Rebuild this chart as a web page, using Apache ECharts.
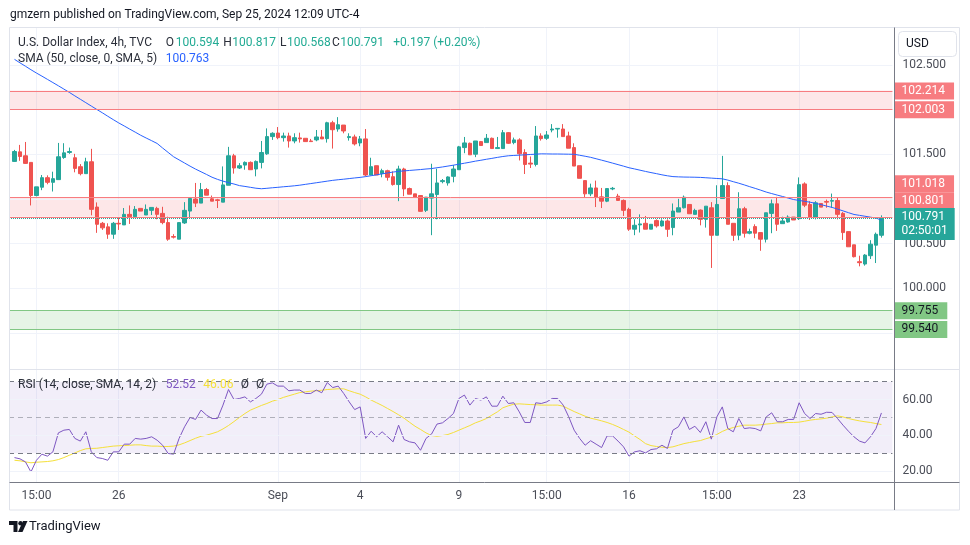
<!DOCTYPE html>
<html>
<head>
<meta charset="utf-8">
<title>U.S. Dollar Index 4h</title>
<script src="https://cdn.jsdelivr.net/npm/echarts@6/dist/echarts.min.js"></script>
<style>
  html, body { margin: 0; padding: 0; background: #fff; }
  #main { width: 970px; height: 545px; }
</style>
</head>
<body>
<div id="main"></div>
<script>
// 4h 蜡烛数据
var opens = [
  101.421,101.528,101.484,101.410,101.039,101.132,101.239,101.187,101.217,101.465,
  101.521,101.462,101.362,101.284,101.417,100.910,100.728,100.688,100.606,100.728,
  100.710,100.828,100.802,100.895,100.821,100.873,100.895,100.839,100.736,100.580,
  100.550,100.732,100.865,101.000,100.954,101.106,101.002,100.991,100.965,101.154,
  101.484,101.347,101.380,101.410,101.336,101.410,101.506,101.699,101.739,101.687,
  101.706,101.650,101.684,101.680,101.650,101.662,101.695,101.676,101.854,101.784,
  101.828,101.688,101.695,101.628,101.673,101.269,101.373,101.284,101.317,101.250,
  101.162,101.336,101.117,101.058,101.039,100.873,101.010,101.050,101.195,101.180,
  101.254,101.328,101.576,101.624,101.502,101.643,101.632,101.680,101.565,101.565,
  101.743,101.632,101.662,101.521,101.402,101.387,101.706,101.680,101.773,101.784,
  101.784,101.706,101.576,101.373,101.206,101.058,101.124,101.024,100.976,101.113,
  101.032,100.984,100.884,100.662,100.710,100.728,100.662,100.758,100.699,100.754,
  100.680,100.854,100.902,100.939,100.828,100.876,100.772,100.902,100.594,101.005,
  101.150,100.728,100.594,100.891,100.617,100.691,100.624,100.550,100.839,100.946,
  100.724,100.743,100.798,100.780,101.169,100.939,100.798,100.950,100.972,100.976,
  100.983,100.839,100.635,100.487,100.298,100.272,100.365,100.483,100.594
];
var closes = [
  101.532,101.476,101.399,101.039,101.136,101.239,101.187,101.228,101.473,101.517,
  101.532,101.343,101.284,101.417,100.884,100.717,100.677,100.606,100.728,100.721,
  100.828,100.802,100.884,100.865,100.884,100.906,100.828,100.736,100.550,100.573,
  100.736,100.873,101.006,100.954,101.106,101.043,100.976,100.984,101.158,101.484,
  101.347,101.373,101.410,101.328,101.421,101.521,101.699,101.736,101.687,101.706,
  101.650,101.687,101.673,101.643,101.643,101.695,101.673,101.854,101.776,101.832,
  101.762,101.699,101.617,101.673,101.269,101.362,101.269,101.317,101.243,101.162,
  101.336,101.113,101.054,101.021,100.862,101.021,101.058,101.180,101.206,101.247,
  101.336,101.584,101.628,101.495,101.650,101.599,101.680,101.565,101.576,101.743,
  101.624,101.662,101.506,101.387,101.391,101.706,101.676,101.717,101.784,101.791,
  101.699,101.569,101.369,101.232,101.058,101.124,101.021,100.976,101.117,101.120,
  100.984,100.873,100.662,100.706,100.721,100.662,100.717,100.699,100.754,100.661,
  100.865,100.902,101.020,100.835,100.872,100.772,100.920,100.594,100.939,101.150,
  100.717,100.594,100.891,100.617,100.635,100.617,100.550,100.846,100.946,100.717,
  100.754,100.798,100.765,101.161,100.931,100.798,100.957,100.909,100.965,100.983,
  100.828,100.624,100.465,100.354,100.287,100.372,100.494,100.605,100.791
];
var highs = [
  101.550,101.606,101.639,101.410,101.136,101.269,101.265,101.306,101.628,101.625,
  101.576,101.506,101.391,101.462,101.562,100.962,100.743,100.728,100.743,100.788,
  100.899,100.928,100.921,100.895,100.939,100.906,100.913,100.913,100.802,100.606,
  100.736,100.965,101.013,101.180,101.180,101.124,101.039,101.002,101.365,101.584,
  101.506,101.402,101.421,101.421,101.432,101.650,101.791,101.747,101.806,101.743,
  101.743,101.736,101.743,101.680,101.673,101.773,101.773,101.865,101.876,101.917,
  101.828,101.736,101.721,101.706,101.784,101.462,101.373,101.339,101.328,101.310,
  101.373,101.350,101.128,101.058,101.039,101.021,101.395,101.339,101.224,101.254,
  101.380,101.595,101.695,101.632,101.650,101.650,101.728,101.688,101.695,101.773,
  101.750,101.688,101.680,101.558,101.476,101.817,101.736,101.761,101.839,101.791,
  101.839,101.754,101.624,101.373,101.206,101.172,101.206,101.124,101.117,101.135,
  101.058,100.995,100.902,100.773,100.828,100.810,100.717,100.773,100.773,100.772,
  100.950,101.002,101.039,100.939,100.891,100.883,100.920,100.965,101.154,101.483,
  101.187,100.728,101.076,100.913,100.668,100.717,100.624,100.846,100.994,101.024,
  100.802,100.817,100.798,101.242,101.187,100.976,100.976,100.950,100.994,101.061,
  101.020,100.854,100.635,100.487,100.365,100.383,100.539,100.624,100.817
];
var lows = [
  101.417,101.428,101.395,100.928,101.030,101.099,101.165,101.084,101.217,101.450,
  101.506,101.299,101.265,101.284,100.817,100.621,100.654,100.554,100.554,100.654,
  100.710,100.721,100.802,100.865,100.821,100.821,100.773,100.717,100.532,100.558,
  100.550,100.721,100.784,100.910,100.954,101.043,100.976,100.899,100.965,101.154,
  101.284,101.336,101.328,101.328,101.254,101.343,101.495,101.662,101.669,101.643,
  101.576,101.624,101.632,101.643,101.643,101.647,101.673,101.632,101.565,101.754,
  101.736,101.654,101.599,101.591,101.254,101.269,101.269,101.243,101.206,101.150,
  100.976,101.032,101.054,101.021,100.862,100.854,100.595,100.773,101.176,101.150,
  101.187,101.328,101.513,101.495,101.469,101.599,101.632,101.565,101.565,101.565,
  101.617,101.613,101.432,101.280,101.347,101.365,101.654,101.662,101.747,101.687,
  101.699,101.569,101.369,101.232,101.013,101.032,100.910,100.899,100.965,101.099,
  100.984,100.810,100.643,100.595,100.625,100.662,100.662,100.680,100.691,100.576,
  100.594,100.854,100.894,100.835,100.828,100.705,100.680,100.228,100.594,101.005,
  100.717,100.531,100.539,100.568,100.605,100.561,100.420,100.513,100.617,100.643,
  100.724,100.735,100.765,100.765,100.909,100.765,100.772,100.909,100.902,100.902,
  100.772,100.542,100.465,100.346,100.246,100.254,100.328,100.283,100.568
];
// SMA 50
var sma50 = [
  102.564,102.525,102.487,102.448,102.411,102.376,102.340,102.304,102.268,102.231,
  102.194,102.155,102.117,102.079,102.041,102.003,101.966,101.927,101.889,101.852,
  101.818,101.783,101.749,101.714,101.683,101.653,101.622,101.571,101.522,101.473,
  101.438,101.403,101.368,101.335,101.305,101.275,101.244,101.220,101.200,101.183,
  101.168,101.150,101.141,101.131,101.121,101.115,101.120,101.126,101.131,101.137,
  101.142,101.148,101.155,101.164,101.173,101.182,101.191,101.200,101.209,101.216,
  101.222,101.229,101.236,101.242,101.251,101.261,101.271,101.282,101.292,101.302,
  101.310,101.315,101.320,101.325,101.330,101.336,101.341,101.350,101.359,101.369,
  101.379,101.390,101.401,101.412,101.424,101.434,101.445,101.455,101.466,101.476,
  101.484,101.488,101.491,101.495,101.499,101.502,101.506,101.505,101.504,101.504,
  101.503,101.502,101.501,101.490,101.479,101.467,101.451,101.435,101.419,101.402,
  101.385,101.368,101.350,101.337,101.323,101.309,101.296,101.284,101.271,101.260,
  101.251,101.248,101.246,101.245,101.244,101.242,101.238,101.234,101.230,101.226,
  101.212,101.194,101.177,101.158,101.138,101.119,101.099,101.078,101.061,101.044,
  101.028,101.011,100.994,100.984,100.974,100.964,100.952,100.937,100.921,100.906,
  100.887,100.867,100.847,100.827,100.817,100.807,100.797,100.787,100.763
];
// RSI 14 及其 SMA 14
var rsi = [
  27.6,26.9,25.2,19.6,26.1,29.5,28.4,30.8,41.4,42.9,
  43.3,38.3,36.8,42.0,30.8,27.6,27.1,26.1,30.8,30.8,
  35.1,35.1,38.3,37.9,38.3,39.2,37.3,34.5,29.9,29.5,
  38.3,44.8,50.0,48.9,54.1,51.3,49.4,49.4,56.9,65.6,
  60.0,60.6,61.5,58.7,60.6,63.0,68.6,69.3,67.5,67.5,
  64.9,65.3,65.3,63.4,63.4,65.3,63.8,69.5,66.7,67.5,
  63.4,58.7,54.4,55.9,38.3,42.3,39.2,42.0,39.2,36.4,
  45.7,37.7,36.4,35.8,31.7,38.3,40.7,46.3,47.0,49.4,
  52.2,60.6,62.5,56.9,60.6,59.7,61.5,56.3,56.3,61.9,
  57.8,58.2,53.1,47.2,47.2,58.2,57.8,58.7,60.6,60.6,
  56.9,50.4,42.9,38.3,34.5,37.0,35.1,33.2,39.7,39.7,
  36.8,33.6,28.4,30.8,31.4,30.2,32.1,32.5,34.5,32.7,
  42.9,44.8,50.3,43.3,45.1,41.6,47.6,37.9,50.3,55.9,
  43.8,42.0,49.4,43.8,44.2,43.8,42.5,50.3,52.6,47.6,
  47.6,48.9,48.9,58.2,52.2,49.4,52.2,51.8,52.9,52.8,
  49.4,45.7,42.3,39.2,36.8,35.8,39.2,43.8,52.52
];
var rsiMa = [
  26.1,25.8,25.2,24.7,25.0,25.2,25.4,25.8,26.5,27.6,
  28.9,30.2,31.5,32.5,32.7,32.8,33.2,33.6,34.0,34.2,
  34.3,34.5,34.7,34.7,34.3,34.0,34.0,33.8,33.8,34.0,
  34.7,35.8,37.1,38.4,39.5,40.1,41.0,42.0,43.6,45.5,
  47.7,50.0,52.2,54.1,55.4,56.7,57.8,59.1,60.0,61.2,
  62.1,63.0,63.9,64.3,64.7,64.9,65.2,65.6,65.8,66.0,
  66.0,64.9,63.9,63.0,61.5,59.7,58.2,56.7,55.0,53.3,
  51.5,49.6,47.3,45.1,43.3,41.4,39.9,39.5,39.9,40.5,
  41.6,42.9,44.2,45.5,47.0,48.1,49.4,51.3,53.1,55.4,
  56.5,57.4,57.6,57.4,57.2,57.1,56.9,56.9,56.9,56.9,
  56.3,54.8,53.3,52.0,50.7,49.6,48.9,48.1,47.2,46.1,
  44.8,43.3,41.8,39.7,37.7,35.4,34.3,33.8,33.4,33.2,
  33.6,34.5,35.4,36.0,36.6,37.1,38.1,39.0,40.5,42.2,
  43.5,44.4,45.1,45.7,45.7,45.7,45.9,46.3,46.6,47.0,
  47.0,47.2,47.2,47.4,47.9,48.5,48.9,49.2,49.6,50.3,
  50.9,50.3,49.4,48.7,48.1,47.6,47.2,46.6,46.06
];

// 时间轴标签 (蜡烛序号)
var timeLabels = ['15:00', '26', 'Sep', '4', '9', '15:00', '16', '15:00', '23'];
var timeLabelAt = [4, 19, 48, 63, 81, 97, 112, 128, 143];

// 价格刻度
var priceGrid = [99.5, 100, 100.5, 101, 101.5, 102, 102.5];
var priceGridLabels = [100, 100.5, 101.5, 102.5];
var rsiGrid = [20, 40, 60];
var rsiBands = [70, 50, 30];

// 水平区域 / 价位
var redZones = [[102.214, 102.003], [101.018, 100.801]];
var greenZone = [99.755, 99.540];
var levelValues = [102.214, 102.003, 101.018, 100.801, 99.755, 99.540];
var levelLabelAt = [102.214, 102.003, 101.175, 100.985, 99.755, 99.540];
var lastPrice = 100.791;
var lastPriceLabelAt = 100.715;
var countdown = '02:50:01';

var FONT = 'Roboto, "Noto Sans", sans-serif';
var UP = '#26a69a', DOWN = '#ef5350';
var HIDDEN = { color: 'rgba(0,0,0,0)', width: 0 };

var chart = echarts.init(document.getElementById('main'));

var PAD_L = 1, PAD_R = 2;
var n = closes.length;
var cats = [];
for (var i = 0; i < n + PAD_L + PAD_R; i++) cats.push(String(i));

function pad(arr) {
  var out = ['-'];
  for (var i = 0; i < arr.length; i++) out.push(arr[i]);
  out.push('-', '-');
  return out;
}

var candleData = [['-', '-', '-', '-']];
for (var i = 0; i < n; i++) candleData.push([opens[i], closes[i], lows[i], highs[i]]);
candleData.push(['-', '-', '-', '-'], ['-', '-', '-', '-']);

var labelAtCat = {};
timeLabelAt.forEach(function (k, j) { labelAtCat[k + PAD_L] = timeLabels[j]; });
function isLabelCat(idx) { return labelAtCat.hasOwnProperty(idx); }

// 网格
var STEP = 5.487;
var gridLeft = 9;
var gridWidth = STEP * (cats.length - 1);

// 价位线
var levelLines = levelValues.map(function (v) {
  return {
    yAxis: v,
    lineStyle: { color: v < 100 ? '#81c784' : '#f77c80', width: 1, type: 'solid' }
  };
});
levelLines.push({ yAxis: lastPrice, lineStyle: { color: UP, width: 1, type: 'dotted' } });

// 价签 (透明线 + 标签)
var tagLines = levelValues.map(function (v, j) {
  var green = v < 100;
  return {
    yAxis: levelLabelAt[j],
    lineStyle: HIDDEN,
    label: {
      show: true, position: 'end', distance: 2, opacity: 1,
      formatter: v.toFixed(3),
      color: green ? '#131722' : '#fff',
      backgroundColor: green ? '#81c784' : '#f77c80',
      padding: [3, 9, 2, 7], fontSize: 12, lineHeight: 12, fontFamily: FONT
    }
  };
});
tagLines.push({
  yAxis: lastPriceLabelAt,
  lineStyle: HIDDEN,
  label: {
    show: true, position: 'end', distance: 2, opacity: 1,
    formatter: lastPrice.toFixed(3) + '\n' + countdown,
    color: '#fff', backgroundColor: UP,
    padding: [2, 7, 2, 7], fontSize: 12, lineHeight: 14, fontFamily: FONT
  }
});

function legendText(x, y, text, color) {
  return {
    type: 'text', x: x, y: y, z: 100, silent: true,
    style: { text: text, fill: color, font: '12px ' + FONT, verticalAlign: 'middle' }
  };
}

var option = {
  animation: false,
  backgroundColor: '#fff',
  textStyle: { fontFamily: FONT },
  grid: [
    { left: gridLeft, width: gridWidth, top: 27.3, height: 342, containLabel: false, outerBoundsMode: 'none' },
    { left: gridLeft, width: gridWidth, top: 370, height: 112.3, containLabel: false, outerBoundsMode: 'none' }
  ],
  xAxis: [
    {
      type: 'category', gridIndex: 0, data: cats, boundaryGap: false,
      axisLine: { show: false }, axisTick: { show: false }, axisLabel: { show: false },
      splitLine: { show: true, interval: function (idx) { return isLabelCat(idx); }, lineStyle: { color: '#f0f3fa' } }
    },
    {
      type: 'category', gridIndex: 1, data: cats, boundaryGap: false,
      axisLine: { show: false }, axisTick: { show: false },
      axisLabel: {
        show: true, margin: 8, color: '#4a4d57', fontSize: 12,
        interval: function (idx) { return isLabelCat(idx); },
        formatter: function (v, idx) { return labelAtCat[idx] || ''; }
      },
      splitLine: { show: true, interval: function (idx) { return isLabelCat(idx); }, lineStyle: { color: '#f0f3fa' } }
    }
  ],
  yAxis: [
    {
      type: 'value', gridIndex: 0, position: 'right', min: 99.093, max: 102.923,
      axisLine: { show: false }, axisTick: { show: false }, axisLabel: { show: false }, splitLine: { show: false }
    },
    {
      type: 'value', gridIndex: 1, position: 'right', min: 13.8, max: 76.5,
      axisLine: { show: false }, axisTick: { show: false }, axisLabel: { show: false }, splitLine: { show: false }
    }
  ],
  series: [
    // 价格网格线 + 刻度文字
    {
      type: 'line', xAxisIndex: 0, yAxisIndex: 0, data: [], clip: false, z: 1,
      markLine: {
        silent: true, symbol: ['none', 'none'], animation: false, z: 1,
        lineStyle: { color: '#f0f3fa', width: 1, type: 'solid' },
        label: {
          show: true, position: 'end', distance: 10, color: '#4a4d57', fontSize: 12,
          formatter: function (p) { return p.value.toFixed(3); }
        },
        data: priceGrid.map(function (v) {
          return { yAxis: v, label: { show: priceGridLabels.indexOf(v) >= 0 } };
        })
      }
    },
    {
      name: 'U.S. Dollar Index', type: 'candlestick', xAxisIndex: 0, yAxisIndex: 0,
      data: candleData, barWidth: 4,
      itemStyle: { color: UP, color0: DOWN, borderColor: UP, borderColor0: DOWN, borderWidth: 1 },
      markArea: {
        silent: true,
        itemStyle: { color: 'rgba(242,54,69,0.12)' },
        data: redZones.map(function (z) { return [{ yAxis: z[0] }, { yAxis: z[1] }]; }).concat([
          [{ yAxis: greenZone[0], itemStyle: { color: 'rgba(76,175,80,0.14)' } }, { yAxis: greenZone[1] }]
        ])
      }
    },
    {
      name: 'SMA 50', type: 'line', xAxisIndex: 0, yAxisIndex: 0, data: pad(sma50),
      symbol: 'none', z: 3, lineStyle: { color: '#2962ff', width: 1 }
    },
    // 价位线
    {
      type: 'line', xAxisIndex: 0, yAxisIndex: 0, data: [], clip: false, z: 6,
      markLine: { silent: true, symbol: ['none', 'none'], animation: false, label: { show: false }, data: levelLines }
    },
    // 价签
    {
      type: 'line', xAxisIndex: 0, yAxisIndex: 0, data: [], clip: false, z: 7,
      markLine: {
        silent: true, symbol: ['none', 'none'], animation: false,
        label: { show: true, position: 'end' },
        data: tagLines
      }
    },
    // RSI 网格
    {
      type: 'line', xAxisIndex: 1, yAxisIndex: 1, data: [], clip: false, z: 1,
      markArea: {
        silent: true, itemStyle: { color: 'rgba(126,87,194,0.1)' },
        data: [[{ yAxis: rsiBands[2] }, { yAxis: rsiBands[0] }]]
      },
      markLine: {
        silent: true, symbol: ['none', 'none'], animation: false,
        lineStyle: { color: '#f0f3fa', width: 1, type: 'solid' },
        label: {
          show: true, position: 'end', distance: 10, color: '#4a4d57', fontSize: 12,
          formatter: function (p) { return p.value.toFixed(2); }
        },
        data: rsiGrid.map(function (v) { return { yAxis: v }; }).concat(rsiBands.map(function (v) {
          return {
            yAxis: v, label: { show: false },
            lineStyle: { color: v === 50 ? 'rgba(120,123,134,0.55)' : '#787b86', type: [5, 4], width: 1 }
          };
        }))
      }
    },
    {
      name: 'RSI', type: 'line', xAxisIndex: 1, yAxisIndex: 1, data: pad(rsi),
      symbol: 'none', z: 4, lineStyle: { color: '#7e57c2', width: 1 }
    },
    {
      name: 'RSI MA', type: 'line', xAxisIndex: 1, yAxisIndex: 1, data: pad(rsiMa),
      symbol: 'none', z: 3, lineStyle: { color: '#f5e03a', width: 1 }
    }
  ],
  graphic: {
    elements: [
      { type: 'rect', z: 100, silent: true, shape: { x: 9.5, y: 27.5, width: 950, height: 482.5 },
        style: { fill: 'none', stroke: '#e0e3eb', lineWidth: 1 } },
      { type: 'line', z: 100, silent: true, shape: { x1: 9.5, y1: 369.5, x2: 959.5, y2: 369.5 },
        style: { stroke: '#e0e3eb', lineWidth: 1 } },
      { type: 'line', z: 101, silent: true, shape: { x1: 894.5, y1: 27.5, x2: 894.5, y2: 510 },
        style: { stroke: '#787b86', lineWidth: 1 } },
      { type: 'line', z: 101, silent: true, shape: { x1: 9.5, y1: 482.5, x2: 959.5, y2: 482.5 },
        style: { stroke: '#787b86', lineWidth: 1 } },
      // USD 按钮
      { type: 'rect', z: 100, silent: true, shape: { x: 898.5, y: 31.5, width: 58, height: 25, r: 4 },
        style: { fill: '#fff', stroke: '#e0e3eb', lineWidth: 1 } },
      { type: 'text', z: 101, x: 906, y: 44, silent: true,
        style: { text: 'USD', fill: '#131722', font: '12px ' + FONT, verticalAlign: 'middle' } },
      // 标题
      legendText(10, 15, 'gmzern published on TradingView.com, Sep 25, 2024 12:09 UTC-4', '#131722'),
      legendText(18, 42.7, 'U.S. Dollar Index, 4h, TVC', '#2a2e39'),
      legendText(165.7, 42.7, 'O', '#2a2e39'),
      legendText(175.7, 42.7, '100.594', '#22ab94'),
      legendText(223.3, 42.7, 'H', '#2a2e39'),
      legendText(232.3, 42.7, '100.817', '#22ab94'),
      legendText(280, 42.7, 'L', '#2a2e39'),
      legendText(287, 42.7, '100.568', '#22ab94'),
      legendText(332, 42.7, 'C', '#2a2e39'),
      legendText(340.3, 42.7, '100.791', '#22ab94'),
      legendText(393.3, 42.7, '+0.197 (+0.20%)', '#22ab94'),
      legendText(18, 59.3, 'SMA (50, close, 0, SMA, 5)', '#2a2e39'),
      legendText(165.7, 59.3, '100.763', '#2962ff'),
      legendText(18, 385, 'RSI (14, close, SMA, 14, 2)', '#2a2e39'),
      legendText(165.7, 385, '52.52', '#7e57c2'),
      legendText(203.3, 385, '46.06', '#f5e03a'),
      legendText(240.7, 385, 'Ø', '#2a2e39'),
      legendText(256, 385, 'Ø', '#2a2e39'),
      // TradingView 标志
      { type: 'polygon', z: 100, silent: true,
        shape: { points: [[9, 521], [17.5, 521], [17.5, 532], [13.5, 532], [13.5, 525], [9, 525]] },
        style: { fill: '#131722' } },
      { type: 'circle', z: 100, silent: true, shape: { cx: 20.5, cy: 523.2, r: 2.2 }, style: { fill: '#131722' } },
      { type: 'polygon', z: 100, silent: true,
        shape: { points: [[23, 521], [27.5, 521], [22.5, 532], [18, 532]] },
        style: { fill: '#131722' } },
      { type: 'text', z: 100, x: 29, y: 527, silent: true,
        style: { text: 'TradingView', fill: '#131722', font: '13px ' + FONT, verticalAlign: 'middle' } }
    ]
  }
};

chart.setOption(option);
</script>
</body>
</html>
